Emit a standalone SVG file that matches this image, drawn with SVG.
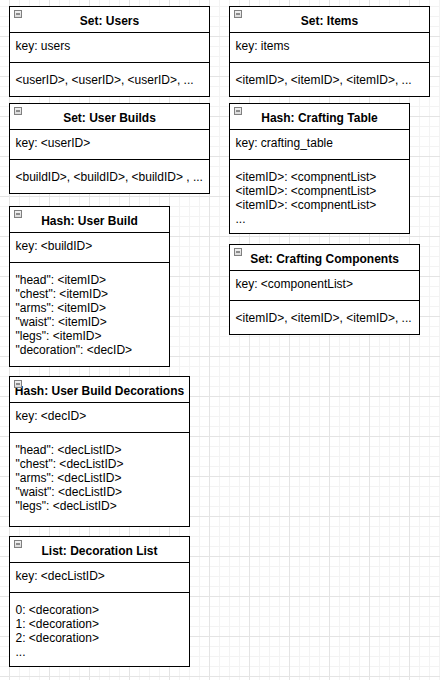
<svg xmlns="http://www.w3.org/2000/svg" width="440" height="680" viewBox="0 0 440 680">
<style>
.box{fill:#fff;stroke:#000;stroke-width:1}
.sep{stroke:#000;stroke-width:1;fill:none}
.t{font-family:"Liberation Sans",Arial,sans-serif;font-size:12px;font-weight:bold;fill:#000;text-anchor:middle}
.k{font-family:"Liberation Sans",Arial,sans-serif;font-size:12px;fill:#000}
</style>
<defs>
<pattern id="grid" patternUnits="userSpaceOnUse" x="9" y="-4" width="40" height="40">
<rect x="0" y="0" width="40" height="40" fill="#fff"/>
<rect x="10" y="0" width="1" height="40" fill="#f3f3f3"/>
<rect x="20" y="0" width="1" height="40" fill="#f3f3f3"/>
<rect x="30" y="0" width="1" height="40" fill="#f3f3f3"/>
<rect x="0" y="10" width="40" height="1" fill="#f3f3f3"/>
<rect x="0" y="20" width="40" height="1" fill="#f3f3f3"/>
<rect x="0" y="30" width="40" height="1" fill="#f3f3f3"/>
<rect x="0" y="0" width="1" height="40" fill="#e4e4e4"/>
<rect x="0" y="0" width="40" height="1" fill="#e4e4e4"/>
</pattern>
<linearGradient id="ig" x1="0" y1="0" x2="0" y2="1">
<stop offset="0" stop-color="#f4f4f4"/>
<stop offset="1" stop-color="#d8d8d8"/>
</linearGradient>
<g id="icon">
<rect x="0" y="0" width="7" height="7" fill="url(#ig)" stroke="#808080" stroke-width="1"/>
<line x1="1.5" y1="3.5" x2="5.5" y2="3.5" stroke="#333" stroke-width="1"/>
</g>
</defs>
<rect x="0" y="0" width="440" height="680" fill="url(#grid)"/>
<g id="connectors"/>

<g id="set-users">
<rect class="box" x="9.5" y="6.5" width="200" height="90"/>
<line class="sep" x1="9.5" y1="32.5" x2="209.5" y2="32.5"/>
<line class="sep" x1="9.5" y1="62.5" x2="209.5" y2="62.5"/>
<use href="#icon" x="14.5" y="10.5"/>
<text class="t" x="109.5" y="24.5">Set: Users</text>
<text class="k" x="15.5" y="49.5">key: users</text>
<text class="k" x="15.5" y="83.5">&lt;userID&gt;, &lt;userID&gt;, &lt;userID&gt;, ...</text>
</g>

<g id="set-user-builds">
<rect class="box" x="9.5" y="103.5" width="200" height="90"/>
<line class="sep" x1="9.5" y1="129.5" x2="209.5" y2="129.5"/>
<line class="sep" x1="9.5" y1="159.5" x2="209.5" y2="159.5"/>
<use href="#icon" x="14.5" y="107.5"/>
<text class="t" x="109.5" y="121.5">Set: User Builds</text>
<text class="k" x="15.5" y="146.5">key: &lt;userID&gt;</text>
<text class="k" x="15.5" y="180.5">&lt;buildID&gt;, &lt;buildID&gt;, &lt;buildID&gt; , ...</text>
</g>

<g id="set-items">
<rect class="box" x="229.5" y="6.5" width="200" height="90"/>
<line class="sep" x1="229.5" y1="32.5" x2="429.5" y2="32.5"/>
<line class="sep" x1="229.5" y1="62.5" x2="429.5" y2="62.5"/>
<use href="#icon" x="234.5" y="10.5"/>
<text class="t" x="329.5" y="24.5">Set: Items</text>
<text class="k" x="235.5" y="49.5">key: items</text>
<text class="k" x="235.5" y="83.5">&lt;itemID&gt;, &lt;itemID&gt;, &lt;itemID&gt;, ...</text>
</g>

<g id="hash-crafting-table">
<rect class="box" x="229.5" y="103.5" width="180" height="130"/>
<line class="sep" x1="229.5" y1="129.5" x2="409.5" y2="129.5"/>
<line class="sep" x1="229.5" y1="159.5" x2="409.5" y2="159.5"/>
<use href="#icon" x="234.5" y="107.5"/>
<text class="t" x="319.5" y="121.5">Hash: Crafting Table</text>
<text class="k" x="235.5" y="146.5">key: crafting_table</text>
<text class="k" x="235.5" y="180.5">&lt;itemID&gt;: &lt;compnentList&gt;</text>
<text class="k" x="235.5" y="194.5">&lt;itemID&gt;: &lt;compnentList&gt;</text>
<text class="k" x="235.5" y="208.5">&lt;itemID&gt;: &lt;compnentList&gt;</text>
<text class="k" x="235.5" y="222.5">...</text>
</g>

<g id="set-crafting-components">
<rect class="box" x="229.5" y="244.5" width="190" height="90"/>
<line class="sep" x1="229.5" y1="270.5" x2="419.5" y2="270.5"/>
<line class="sep" x1="229.5" y1="300.5" x2="419.5" y2="300.5"/>
<use href="#icon" x="234.5" y="248.5"/>
<text class="t" x="324.5" y="262.5">Set: Crafting Components</text>
<text class="k" x="235.5" y="287.5">key: &lt;componentList&gt;</text>
<text class="k" x="235.5" y="321.5">&lt;itemID&gt;, &lt;itemID&gt;, &lt;itemID&gt;, ...</text>
</g>

<g id="hash-user-build">
<rect class="box" x="9.5" y="206.5" width="160" height="160"/>
<line class="sep" x1="9.5" y1="232.5" x2="169.5" y2="232.5"/>
<line class="sep" x1="9.5" y1="262.5" x2="169.5" y2="262.5"/>
<use href="#icon" x="14.5" y="210.5"/>
<text class="t" x="89.5" y="224.5">Hash: User Build</text>
<text class="k" x="15.5" y="249.5">key: &lt;buildID&gt;</text>
<text class="k" x="15.5" y="283.5">"head": &lt;itemID&gt;</text>
<text class="k" x="15.5" y="297.5">"chest": &lt;itemID&gt;</text>
<text class="k" x="15.5" y="311.5">"arms": &lt;itemID&gt;</text>
<text class="k" x="15.5" y="325.5">"waist": &lt;itemID&gt;</text>
<text class="k" x="15.5" y="339.5">"legs": &lt;itemID&gt;</text>
<text class="k" x="15.5" y="353.5">"decoration": &lt;decID&gt;</text>
</g>

<g id="hash-user-build-decorations">
<rect class="box" x="9.5" y="376.5" width="180" height="150"/>
<line class="sep" x1="9.5" y1="402.5" x2="189.5" y2="402.5"/>
<line class="sep" x1="9.5" y1="432.5" x2="189.5" y2="432.5"/>
<text class="t" x="99.5" y="394.5">Hash: User Build Decorations</text>
<use href="#icon" x="14.5" y="380.5"/>
<text class="k" x="15.5" y="419.5">key: &lt;decID&gt;</text>
<text class="k" x="15.5" y="453.5">"head": &lt;decListID&gt;</text>
<text class="k" x="15.5" y="467.5">"chest": &lt;decListID&gt;</text>
<text class="k" x="15.5" y="481.5">"arms": &lt;decListID&gt;</text>
<text class="k" x="15.5" y="495.5">"waist": &lt;decListID&gt;</text>
<text class="k" x="15.5" y="509.5">"legs": &lt;decListID&gt;</text>
</g>

<g id="list-decoration-list">
<rect class="box" x="9.5" y="536.5" width="180" height="130"/>
<line class="sep" x1="9.5" y1="562.5" x2="189.5" y2="562.5"/>
<line class="sep" x1="9.5" y1="592.5" x2="189.5" y2="592.5"/>
<use href="#icon" x="14.5" y="540.5"/>
<text class="t" x="99.5" y="554.5">List: Decoration List</text>
<text class="k" x="15.5" y="579.5">key: &lt;decListID&gt;</text>
<text class="k" x="15.5" y="613.5">0: &lt;decoration&gt;</text>
<text class="k" x="15.5" y="627.5">1: &lt;decoration&gt;</text>
<text class="k" x="15.5" y="641.5">2: &lt;decoration&gt;</text>
<text class="k" x="15.5" y="655.5">...</text>
</g>
</svg>
